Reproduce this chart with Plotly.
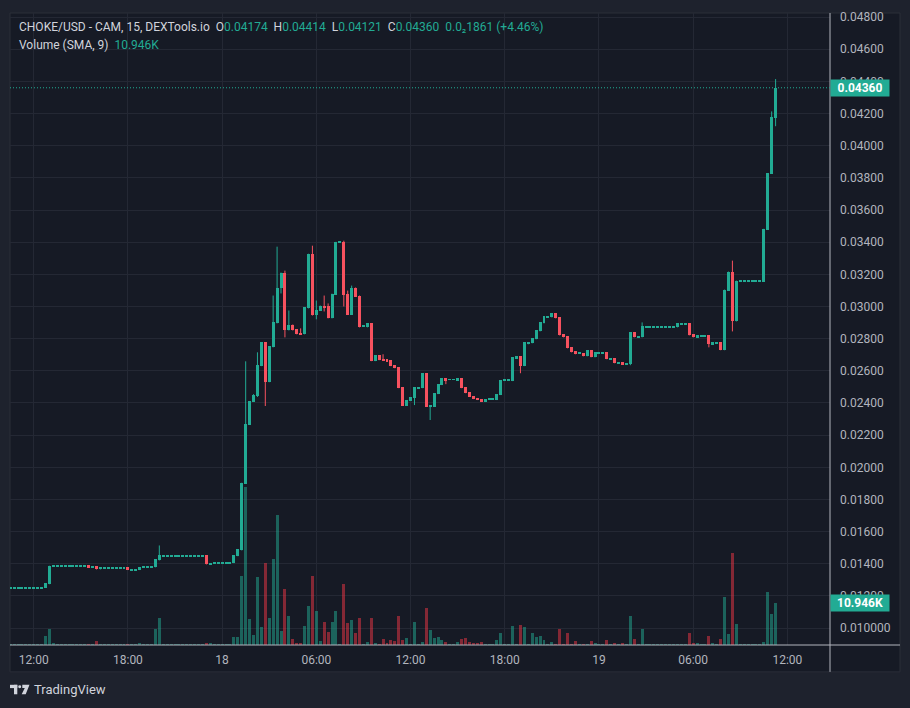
import plotly.graph_objects as go
import pandas as pd

# ---------------- data (15-minute candles, CHOKE/USD) ----------------
first_bar = "2024-01-17 10:30"
bar_minutes = 15

open_ = [
    0.01250, 0.01250, 0.01250, 0.01250, 0.01250, 0.01250, 0.01250, 0.01250, 0.01250,
    0.01250, 0.01273,
    0.01388, 0.01388, 0.01388, 0.01388, 0.01388, 0.01388, 0.01388, 0.01388, 0.01388,
    0.01390, 0.01382, 0.01384, 0.01365,
    0.01376, 0.01376, 0.01376, 0.01376, 0.01376, 0.01376,
    0.01378, 0.01363, 0.01363, 0.01361, 0.01377, 0.01377, 0.01376, 0.01378, 0.01421,
    0.01450, 0.01450, 0.01450, 0.01450, 0.01450, 0.01450, 0.01450, 0.01450, 0.01450, 0.01450, 0.01450,
    0.01452, 0.01398,
    0.01407, 0.01407, 0.01407, 0.01407, 0.01407,
    0.01404, 0.01447, 0.01483, 0.01898, 0.02263, 0.02406, 0.02443, 0.02629, 0.02777, 0.02529,
    0.02746, 0.02895, 0.03112, 0.03211, 0.02851, 0.02888, 0.02858, 0.02833, 0.02827, 0.02988,
    0.03328, 0.02944, 0.02975, 0.03006, 0.03000, 0.02926, 0.03074, 0.03402, 0.03402, 0.03080,
    0.02950, 0.03118, 0.03068, 0.02876, 0.02870, 0.02895, 0.02660, 0.02697, 0.02672, 0.02672,
    0.02666, 0.02635, 0.02622, 0.02498, 0.02381, 0.02412, 0.02431, 0.02496, 0.02492, 0.02585,
    0.02379, 0.02375, 0.02455, 0.02511, 0.02554, 0.02546, 0.02546, 0.02542, 0.02554, 0.02498,
    0.02467, 0.02443, 0.02431, 0.02424, 0.02406, 0.02422, 0.02422, 0.02418, 0.02449, 0.02540,
    0.02540, 0.02536, 0.02678, 0.02690, 0.02629, 0.02775, 0.02771, 0.02796, 0.02845, 0.02895,
    0.02936, 0.02932, 0.02957, 0.02932, 0.02827, 0.02814, 0.02746, 0.02721, 0.02709, 0.02709,
    0.02690, 0.02728, 0.02684, 0.02713, 0.02713, 0.02715, 0.02676, 0.02678, 0.02651, 0.02653,
    0.02645, 0.02641, 0.02839, 0.02812, 0.02808, 0.02874, 0.02874, 0.02874, 0.02874, 0.02874,
    0.02874, 0.02874, 0.02874, 0.02870, 0.02893, 0.02893, 0.02895, 0.02827, 0.02808, 0.02818,
    0.02818, 0.02820, 0.02765, 0.02775, 0.02777, 0.02728, 0.03099, 0.03217, 0.02907, 0.03159,
    0.03159, 0.03159, 0.03159, 0.03159, 0.03159, 0.03155, 0.03477, 0.03824, 0.04174,
]

close_ = [
    0.01250, 0.01250, 0.01250, 0.01250, 0.01250, 0.01250, 0.01250, 0.01250, 0.01250,
    0.01278, 0.01388,
    0.01388, 0.01388, 0.01388, 0.01388, 0.01388, 0.01388, 0.01388, 0.01388, 0.01388,
    0.01380, 0.01382, 0.01365, 0.01378,
    0.01376, 0.01376, 0.01376, 0.01376, 0.01376, 0.01376,
    0.01361, 0.01363, 0.01363, 0.01378, 0.01377, 0.01377, 0.01386, 0.01427, 0.01452,
    0.01450, 0.01450, 0.01450, 0.01450, 0.01450, 0.01450, 0.01450, 0.01450, 0.01450, 0.01450, 0.01450,
    0.01396, 0.01405,
    0.01407, 0.01407, 0.01407, 0.01407, 0.01407,
    0.01452, 0.01490, 0.01904, 0.02269, 0.02412, 0.02449, 0.02635, 0.02777, 0.02529, 0.02752,
    0.02901, 0.03118, 0.03211, 0.02851, 0.02888, 0.02851, 0.02827, 0.02827, 0.02994, 0.03328,
    0.02944, 0.02981, 0.03006, 0.02994, 0.02926, 0.03080, 0.03402, 0.03402, 0.03074, 0.02950,
    0.03118, 0.03062, 0.02870, 0.02876, 0.02895, 0.02660, 0.02697, 0.02666, 0.02666, 0.02660,
    0.02629, 0.02616, 0.02492, 0.02381, 0.02418, 0.02437, 0.02498, 0.02496, 0.02585, 0.02375,
    0.02379, 0.02461, 0.02517, 0.02554, 0.02542, 0.02546, 0.02546, 0.02554, 0.02492, 0.02461,
    0.02437, 0.02424, 0.02418, 0.02406, 0.02424, 0.02422, 0.02422, 0.02455, 0.02542, 0.02540,
    0.02540, 0.02684, 0.02690, 0.02629, 0.02777, 0.02775, 0.02802, 0.02851, 0.02901, 0.02938,
    0.02936, 0.02957, 0.02926, 0.02820, 0.02808, 0.02740, 0.02715, 0.02703, 0.02709, 0.02690,
    0.02728, 0.02684, 0.02715, 0.02713, 0.02713, 0.02672, 0.02676, 0.02647, 0.02651, 0.02641,
    0.02645, 0.02839, 0.02808, 0.02812, 0.02876, 0.02874, 0.02874, 0.02874, 0.02874, 0.02874,
    0.02874, 0.02874, 0.02874, 0.02895, 0.02893, 0.02893, 0.02820, 0.02808, 0.02820, 0.02818,
    0.02818, 0.02765, 0.02777, 0.02775, 0.02728, 0.03105, 0.03217, 0.02907, 0.03161, 0.03159,
    0.03159, 0.03159, 0.03159, 0.03159, 0.03159, 0.03483, 0.03830, 0.04176, 0.04360,
]

high_ = [
    0.01250, 0.01250, 0.01250, 0.01250, 0.01250, 0.01250, 0.01250, 0.01250, 0.01250,
    0.01278, 0.01388,
    0.01388, 0.01388, 0.01388, 0.01388, 0.01388, 0.01388, 0.01388, 0.01388, 0.01388,
    0.01390, 0.01382, 0.01384, 0.01378,
    0.01376, 0.01376, 0.01376, 0.01376, 0.01376, 0.01376,
    0.01378, 0.01363, 0.01363, 0.01378, 0.01377, 0.01377, 0.01386, 0.01427, 0.01514,
    0.01450, 0.01450, 0.01450, 0.01450, 0.01450, 0.01450, 0.01450, 0.01450, 0.01450, 0.01450, 0.01450,
    0.01452, 0.01405,
    0.01407, 0.01407, 0.01407, 0.01407, 0.01407,
    0.01452, 0.01490, 0.01904, 0.02659, 0.02412, 0.02455, 0.02715, 0.02777, 0.02777, 0.02752,
    0.03068, 0.03372, 0.03211, 0.03223, 0.02975, 0.02888, 0.02858, 0.02864, 0.02994, 0.03328,
    0.03378, 0.03037, 0.03006, 0.03068, 0.03019, 0.03080, 0.03402, 0.03402, 0.03409, 0.03099,
    0.03130, 0.03118, 0.03068, 0.02876, 0.02895, 0.02895, 0.02697, 0.02697, 0.02703, 0.02672,
    0.02666, 0.02635, 0.02622, 0.02498, 0.02418, 0.02437, 0.02498, 0.02496, 0.02585, 0.02585,
    0.02379, 0.02461, 0.02517, 0.02554, 0.02554, 0.02546, 0.02546, 0.02554, 0.02554, 0.02498,
    0.02467, 0.02443, 0.02431, 0.02424, 0.02424, 0.02422, 0.02422, 0.02455, 0.02542, 0.02540,
    0.02540, 0.02684, 0.02690, 0.02690, 0.02777, 0.02775, 0.02802, 0.02851, 0.02901, 0.02938,
    0.02936, 0.02957, 0.02957, 0.02932, 0.02827, 0.02814, 0.02746, 0.02721, 0.02709, 0.02709,
    0.02728, 0.02728, 0.02715, 0.02713, 0.02713, 0.02715, 0.02676, 0.02678, 0.02651, 0.02653,
    0.02645, 0.02839, 0.02839, 0.02812, 0.02901, 0.02874, 0.02874, 0.02874, 0.02874, 0.02874,
    0.02874, 0.02874, 0.02874, 0.02895, 0.02893, 0.02893, 0.02895, 0.02827, 0.02820, 0.02818,
    0.02818, 0.02820, 0.02777, 0.02775, 0.02777, 0.03105, 0.03217, 0.03285, 0.03161, 0.03159,
    0.03159, 0.03159, 0.03159, 0.03159, 0.03159, 0.03483, 0.03830, 0.04213, 0.04414,
]

low_ = [
    0.01250, 0.01250, 0.01250, 0.01250, 0.01250, 0.01250, 0.01250, 0.01250, 0.01250,
    0.01250, 0.01273,
    0.01388, 0.01388, 0.01388, 0.01388, 0.01388, 0.01388, 0.01388, 0.01388, 0.01388,
    0.01380, 0.01382, 0.01365, 0.01365,
    0.01376, 0.01376, 0.01376, 0.01376, 0.01376, 0.01376,
    0.01361, 0.01363, 0.01363, 0.01361, 0.01377, 0.01377, 0.01376, 0.01378, 0.01421,
    0.01450, 0.01450, 0.01450, 0.01450, 0.01450, 0.01450, 0.01450, 0.01450, 0.01450, 0.01450, 0.01450,
    0.01396, 0.01398,
    0.01407, 0.01407, 0.01407, 0.01407, 0.01407,
    0.01404, 0.01447, 0.01483, 0.01898, 0.02263, 0.02406, 0.02437, 0.02629, 0.02381, 0.02529,
    0.02746, 0.02895, 0.03081, 0.02808, 0.02851, 0.02851, 0.02827, 0.02827, 0.02827, 0.02988,
    0.02944, 0.02920, 0.02975, 0.02969, 0.02926, 0.02926, 0.03074, 0.03402, 0.03000, 0.02950,
    0.02950, 0.03062, 0.02870, 0.02876, 0.02870, 0.02660, 0.02660, 0.02666, 0.02666, 0.02660,
    0.02629, 0.02616, 0.02492, 0.02381, 0.02381, 0.02412, 0.02387, 0.02496, 0.02492, 0.02375,
    0.02294, 0.02375, 0.02455, 0.02511, 0.02517, 0.02546, 0.02546, 0.02542, 0.02492, 0.02461,
    0.02437, 0.02424, 0.02418, 0.02406, 0.02406, 0.02422, 0.02422, 0.02418, 0.02449, 0.02540,
    0.02540, 0.02536, 0.02678, 0.02585, 0.02629, 0.02765, 0.02771, 0.02796, 0.02845, 0.02895,
    0.02936, 0.02932, 0.02926, 0.02820, 0.02808, 0.02740, 0.02715, 0.02703, 0.02709, 0.02690,
    0.02690, 0.02684, 0.02684, 0.02713, 0.02713, 0.02672, 0.02676, 0.02647, 0.02651, 0.02641,
    0.02645, 0.02635, 0.02808, 0.02812, 0.02808, 0.02874, 0.02874, 0.02874, 0.02874, 0.02874,
    0.02874, 0.02874, 0.02874, 0.02870, 0.02893, 0.02893, 0.02820, 0.02808, 0.02808, 0.02818,
    0.02818, 0.02746, 0.02765, 0.02775, 0.02728, 0.02728, 0.03099, 0.02845, 0.02907, 0.03159,
    0.03159, 0.03159, 0.03159, 0.03159, 0.03159, 0.03155, 0.03477, 0.03824, 0.04121,
]

volume_k = [
    0.3, 0.3, 0.3, 0.3, 0.3, 0.3, 0.3, 0.3, 0.3,
    2.4, 4.2,
    0.6, 0.3, 0.3, 0.3, 0.3, 0.3, 0.3, 0.3, 0.3,
    0.3, 0.3, 1.1, 0.3,
    0.3, 0.3, 0.3, 0.3, 0.3, 0.3,
    0.3, 0.3, 0.3, 0.6, 0.3, 0.3, 0.3, 4.2, 7.1,
    0.3, 0.3, 0.3, 0.3, 0.3, 0.3, 0.3, 0.3, 0.3, 0.3, 0.3,
    0.6, 0.6,
    0.3, 0.3, 0.3, 0.3, 0.3,
    2.2, 2.2, 18.2, 41.4, 6.8, 2.6, 17.7, 4.7, 21.4, 7.0,
    22.4, 34.1, 3.6, 14.6, 7.6, 1.6, 0.5, 0.5, 4.9, 10.2,
    18.2, 8.9, 1.0, 6.0, 3.4, 6.0, 8.9, 0.3, 15.9, 5.7,
    6.5, 3.1, 7.0, 0.3, 0.8, 7.0, 0.5, 0.3, 1.6, 0.5,
    1.3, 1.0, 7.6, 1.3, 1.8, 0.3, 6.0, 0.3, 0.8, 9.6,
    3.9, 1.8, 2.1, 1.3, 0.8, 0.3, 0.3, 0.8, 1.6, 1.8,
    0.8, 0.5, 0.5, 0.8, 0.3, 0.3, 0.3, 1.3, 3.1, 0.3,
    0.3, 4.9, 0.3, 5.2, 4.7, 0.3, 3.1, 2.1, 2.3, 1.3,
    0.3, 0.8, 0.3, 4.2, 0.3, 3.1, 0.3, 1.0, 0.3, 0.3,
    0.3, 1.0, 0.5, 0.3, 0.3, 1.3, 0.3, 0.5, 0.3, 0.5,
    0.3, 7.6, 1.6, 0.3, 4.2, 0.3, 0.3, 0.3, 0.3, 0.3,
    0.3, 0.3, 0.3, 0.3, 0.3, 0.3, 3.1, 0.5, 0.5, 0.3,
    0.3, 2.3, 0.5, 0.3, 1.6, 12.5, 2.9, 24.2, 5.5, 0.3,
    0.3, 0.3, 0.3, 0.3, 0.3, 0.8, 13.8, 8.1, 10.946,
]

price_ticks = [0.010, 0.012, 0.014, 0.016, 0.018, 0.020, 0.022, 0.024, 0.026, 0.028,
               0.030, 0.032, 0.034, 0.036, 0.038, 0.040, 0.042, 0.044, 0.046, 0.048]
price_tick_text = ["0.010000", "0.01200", "0.01400", "0.01600", "0.01800", "0.02000",
                   "0.02200", "0.02400", "0.02600", "0.02800", "0.03000", "0.03200",
                   "0.03400", "0.03600", "0.03800", "0.04000", "0.04200", "0.04400",
                   "0.04600", "0.04800"]
time_ticks = ["2024-01-17 12:00", "2024-01-17 18:00", "2024-01-18 00:00", "2024-01-18 06:00",
              "2024-01-18 12:00", "2024-01-18 18:00", "2024-01-19 00:00", "2024-01-19 06:00",
              "2024-01-19 12:00"]
time_tick_text = ["12:00", "18:00", "18", "06:00", "12:00", "18:00", "19", "06:00", "12:00"]

symbol_text = "CHOKE/USD - CAM, 15, DEXTools.io"
change_text = "0.0\u20821861 (+4.46%)"
volume_title = "Volume (SMA, 9)"
volume_value_text = "10.946K"

# ---------------- style ----------------
UP = "#22ab94"
DOWN = "#f7525f"
UP_VOL = "rgba(34,171,148,0.5)"
DOWN_VOL = "rgba(242,54,69,0.5)"
BG = "#161a25"
OUTER = "#1e222d"
GRID = "#242834"
BORDER = "#2a2e39"
AXISLINE = "#b2b5be"
TEXT = "#b2b5be"
HEAD = "#d1d4dc"
FONT = "Roboto"

W, H = 910, 708
L, R, T, B = 10, 80, 10, 63
plot_w = W - L - R
plot_h = H - T - B
price_range = [0.00895, 0.04825]
vol_range = [0, 165.5]

times = pd.date_range(first_bar, periods=len(open_), freq=f"{bar_minutes}min")
step = pd.Timedelta(minutes=bar_minutes)
x_range = [times[0] - 0.04 * step, times[-1] + 13.86 * step]
bar_w = 0.76 * step.total_seconds() * 1000

one_px = (price_range[1] - price_range[0]) / plot_h
is_up = [c >= o for o, c in zip(open_, close_)]
body_base, body_len = [], []
for o, c in zip(open_, close_):
    lo, hi = min(o, c), max(o, c)
    if hi - lo < one_px:
        mid = (hi + lo) / 2
        body_base.append(mid - one_px / 2)
        body_len.append(one_px)
    else:
        body_base.append(lo)
        body_len.append(hi - lo)

wx = {True: [], False: []}
wy = {True: [], False: []}
for t, h, l, up in zip(times, high_, low_, is_up):
    if h > l:
        wx[up] += [t, t, None]
        wy[up] += [l, h, None]

fig = go.Figure()
fig.add_trace(go.Bar(
    x=times, y=volume_k, width=bar_w, yaxis="y",
    marker=dict(color=[UP_VOL if u else DOWN_VOL for u in is_up], line=dict(width=0)),
    hoverinfo="skip"))
fig.add_trace(go.Bar(
    x=times, y=body_len, base=body_base, width=bar_w, yaxis="y2",
    marker=dict(color=[UP if u else DOWN for u in is_up], line=dict(width=0)),
    hoverinfo="skip"))
for up in (True, False):
    fig.add_trace(go.Scatter(
        x=wx[up], y=wy[up], mode="lines", yaxis="y2", connectgaps=False,
        line=dict(color=UP if up else DOWN, width=1), hoverinfo="skip"))

def px_x(px):
    return (px - L) / plot_w

def px_y(py):
    return (H - B - py) / plot_h

shapes = [
    # chart panel background & border
    dict(type="rect", xref="paper", yref="paper", x0=px_x(10), x1=px_x(900),
         y0=px_y(672), y1=px_y(10), fillcolor=BG, line=dict(color=BORDER, width=1),
         layer="below"),
    # price-scale separator and time-scale separator
    dict(type="line", xref="paper", yref="paper", x0=1, x1=1, y0=px_y(672), y1=px_y(10),
         line=dict(color=AXISLINE, width=1), layer="above"),
    dict(type="line", xref="paper", yref="paper", x0=0, x1=px_x(900), y0=0, y1=0,
         line=dict(color=AXISLINE, width=1), layer="above"),
    # last price dotted line
    dict(type="line", xref="paper", yref="y2", x0=0, x1=1, y0=close_[-1], y1=close_[-1],
         line=dict(color=UP, width=1, dash="1px,2px"), layer="above"),
    # TradingView logo
    dict(type="rect", xref="paper", yref="paper", x0=px_x(10), x1=px_x(17.3),
         y0=px_y(688.3), y1=px_y(685), fillcolor=HEAD, line=dict(width=0)),
    dict(type="rect", xref="paper", yref="paper", x0=px_x(14), x1=px_x(17.3),
         y0=px_y(694.5), y1=px_y(685), fillcolor=HEAD, line=dict(width=0)),
    dict(type="circle", xref="paper", yref="paper", x0=px_x(18.2), x1=px_x(21.2),
         y0=px_y(688.5), y1=px_y(685.5), fillcolor=HEAD, line=dict(width=0)),
    dict(type="path", xref="paper", yref="paper",
         path=(f"M {px_x(22.3)},{px_y(685)} L {px_x(29.5)},{px_y(685)} "
               f"L {px_x(25.7)},{px_y(694.5)} L {px_x(21.7)},{px_y(694.5)} "
               f"L {px_x(24.8)},{px_y(688.3)} L {px_x(22.3)},{px_y(688.3)} Z"),
         fillcolor=HEAD, line=dict(width=0)),
]

def teal(s):
    return f"<span style='color:{UP}'>{s}</span>"

sp = "\u00a0\u00a0"
header1 = (f"{symbol_text}{sp}O{teal(f'{open_[-1]:.5f}')}{sp}H{teal(f'{high_[-1]:.5f}')}"
           f"{sp}L{teal(f'{low_[-1]:.5f}')}{sp}C{teal(f'{close_[-1]:.5f}')}{sp}{teal(change_text)}")
header2 = f"{volume_title}{sp}{teal(volume_value_text)}"

annotations = [
    dict(text=header1, xref="paper", yref="paper", x=px_x(17), y=px_y(24),
         xanchor="left", yanchor="middle", showarrow=False,
         font=dict(family=FONT, size=12, color=HEAD)),
    dict(text=header2, xref="paper", yref="paper", x=px_x(17), y=px_y(42),
         xanchor="left", yanchor="middle", showarrow=False,
         font=dict(family=FONT, size=12, color=HEAD)),
    dict(text=f"<b>{close_[-1]:.5f}</b>", xref="paper", yref="y2", x=1, y=close_[-1],
         xanchor="left", yanchor="middle", showarrow=False, bgcolor=UP,
         width=56, height=14, borderpad=1, align="center",
         font=dict(family=FONT, size=12, color="#ffffff")),
    dict(text=f"<b>{volume_value_text}</b>", xref="paper", yref="y", x=1, y=volume_k[-1],
         xanchor="left", yanchor="middle", showarrow=False, bgcolor=UP,
         width=56, height=14, borderpad=1, align="center",
         font=dict(family=FONT, size=12, color="#ffffff")),
    dict(text="TradingView", xref="paper", yref="paper", x=px_x(32), y=px_y(690),
         xanchor="left", yanchor="middle", showarrow=False,
         font=dict(family=FONT, size=13, color=HEAD)),
]

fig.update_layout(
    width=W, height=H, margin=dict(l=L, r=R, t=T, b=B),
    paper_bgcolor=OUTER, plot_bgcolor=BG, showlegend=False,
    barmode="overlay", bargap=0, hovermode=False,
    font=dict(family=FONT, color=TEXT, size=12),
    xaxis=dict(type="date", range=x_range, tickvals=time_ticks, ticktext=time_tick_text,
               showgrid=True, gridcolor=GRID, gridwidth=1, zeroline=False, showline=False,
               ticks="", ticklabelstandoff=6, tickfont=dict(family=FONT, size=12, color=TEXT),
               fixedrange=True),
    yaxis=dict(range=vol_range, visible=False, showgrid=False, zeroline=False, fixedrange=True),
    yaxis2=dict(overlaying="y", side="right", anchor="x", range=price_range,
                tickvals=price_ticks, ticktext=price_tick_text, showgrid=True,
                gridcolor=GRID, gridwidth=1, zeroline=False, showline=False, ticks="",
                ticklabelstandoff=9, tickfont=dict(family=FONT, size=12, color=TEXT),
                fixedrange=True),
    shapes=shapes, annotations=annotations,
)

fig.write_html("out.html")
